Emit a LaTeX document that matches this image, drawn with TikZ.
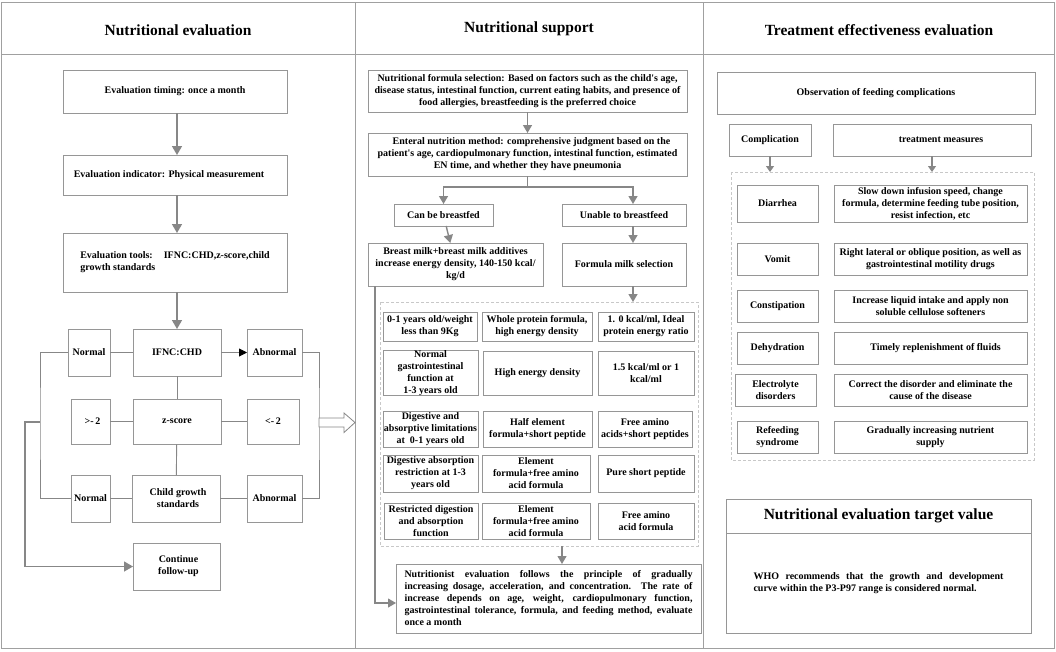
\documentclass[tikz,border=0pt]{standalone}
\usepackage{fontspec}
\setmainfont{Liberation Serif}
\usetikzlibrary{arrows.meta}
\definecolor{boxc}{RGB}{150,150,150}
\definecolor{arrc}{RGB}{135,135,135}
\definecolor{dashc}{RGB}{200,200,200}
\definecolor{framec}{RGB}{160,160,160}
\tikzset{
  bx/.style={draw=boxc, line width=0.9pt, inner sep=0pt, outer sep=0pt, align=center,
    font=\bfseries\fontsize{10}{12}\selectfont},
  ttl/.style={font=\bfseries\fontsize{15.5}{18}\selectfont, inner sep=0pt},
  arrL/.style={draw=arrc, line width=1.6pt, -{Triangle[length=9pt,width=10pt]}},
  arrM/.style={draw=arrc, line width=1.4pt, -{Triangle[length=8pt,width=9pt]}},
  arrR/.style={draw=arrc, line width=1.2pt, -{Triangle[length=6pt,width=8pt]}},
  ln/.style={draw=arrc, line width=0.9pt},
  dashbox/.style={draw=dashc, line width=0.9pt, dash pattern=on 3pt off 2pt},
  framel/.style={draw=framec, line width=0.9pt}
}
\newcommand\ap{\textquotesingle}
\newcommand\bx[7][]{\node[bx,minimum width={(#5-#3)*1pt},minimum height={(#6-#4)*1pt},#1] (#2) at ({(#3+#5)/2},{(#4+#6)/2}) {#7};}
\begin{document}
\begin{tikzpicture}[x=1pt,y=-1pt]
\useasboundingbox (0,0) rectangle (1056,651);
% frame
\draw[framel] (1,2) rectangle (1054,648);
\draw[framel] (355,2) -- (355,648);
\draw[framel] (703,2) -- (703,648);
\draw[framel] (1,54.5) -- (1054,54.5);
\node[ttl] (t1) at (178,30) {Nutritional evaluation};
\node[ttl] (t2) at (529,29) {Nutritional support};
\node[ttl] (t3) at (879,30) {Treatment effectiveness evaluation};

% ---------- left panel
\bx{b1}{63}{70}{287}{113}{Evaluation timing: once a month}
\bx{b2}{63}{155}{287}{195}{Evaluation indicator: Physical measurement\hspace*{12pt}}
\bx[align=left]{b3}{63}{233}{287}{292}{Evaluation tools:\hspace{1.1em}IFNC:CHD,z-score,child\\growth standards}
\bx{n1}{68}{329}{110}{376}{Normal}
\bx{ifnc}{133}{329}{221}{376}{IFNC:CHD}
\bx{ab1}{247}{329}{302}{376}{Abnormal}
\bx{gt}{71}{399}{110}{444}{\hspace*{4pt}>-\,2}
\bx{zs}{133}{399}{221}{444}{z-score}
\bx{lt}{247}{399}{299}{444}{<-\,2}
\bx{n2}{71}{475}{110}{522}{Normal}
\bx{cg}{132}{475}{220}{522}{\hspace*{4pt}Child growth\\\hspace*{4pt}standards}
\bx{ab2}{247}{475}{302}{522}{Abnormal}
\bx{cf}{133}{543}{220}{590}{\hspace*{4pt}Continue\\\hspace*{4pt}follow-up}

\draw[arrL] (b1.south -| ifnc.north) -- (b2.north -| ifnc.north);
\draw[arrL] (b2.south -| ifnc.north) -- (b3.north -| ifnc.north);
\draw[arrL] (b3.south -| ifnc.north) -- (ifnc.north);
\draw[ln] (n1) -- (ifnc);
\draw[ln,-{Triangle[length=8pt,width=8pt,color=black]}] (ifnc) -- (ab1);
\draw[ln] (ifnc) -- (zs);
\draw[ln] (gt) -- (zs);
\draw[ln] (zs) -- (lt);
\draw[ln] (zs) -- (cg);
\draw[ln] (n2) -- (cg);
\draw[ln] (cg) -- (ab2);
\coordinate (rb) at (319,422.5);
\coordinate (lb) at (40,422);
\coordinate (lb2) at (25,422);
\draw[ln] (ab1.east) -| (rb) |- (ab2.east);
\draw[ln] (n1.west) -| (lb) |- (n2.west);
\draw[arrL,line width=1.3pt] (lb) -- (lb2) |- (cf.west);
% hollow arrow to nutritional support
\coordinate (tip) at (355,422.5);
\draw[draw=arrc,line width=0.8pt,fill=white] (rb) -- ++(0,-4.5) -- ++(25,0) -- ++(0,-5) -- (tip) -- ++(-11,10) -- ++(0,-5.5) -- ++(-25,0) -- cycle;

% ---------- middle panel
\bx{nA}{368}{70}{687}{112}{Nutritional formula selection: Based on factors such as the child\ap s age,\\disease status, intestinal function, current eating habits, and presence of\\food allergies, breastfeeding is the preferred choice}
\bx{nB}{368}{133}{687}{176}{\hspace*{8pt}Enteral nutrition method: comprehensive judgment based on the\\patient\ap s age, cardiopulmonary function, intestinal function, estimated\\EN time, and whether they have pneumonia}
\bx{cb}{394}{204}{493}{226}{Can be breastfed}
\bx{ub}{562}{204}{686}{226}{Unable to breastfeed}
\bx{bm}{368}{243}{543}{286}{Breast milk+breast milk additives\\increase energy density, 140-150 kcal/\\kg/d}
\bx{fm}{562}{243}{686}{286}{Formula milk selection}
\bx[draw=none]{dash}{380}{302}{698}{546}{}
\draw[dashbox] (dash.north west) rectangle (dash.south east);
% grid
\bx{r1a}{383}{312}{477}{341}{0-1 years old/weight\\less than 9Kg}
\bx{r1b}{482}{312}{592}{341}{Whole protein formula,\\high energy density}
\bx{r1c}{598}{312}{694}{341}{1. 0 kcal/ml, Ideal\\protein energy ratio}
\bx{r2a}{383}{351}{478}{395}{Normal\\gastrointestinal\\function at\\1-3 years old}
\bx{r2b}{483}{351}{592}{395}{High energy density}
\bx{r2c}{598}{351}{694}{395}{1.5 kcal/ml or 1\\kcal/ml}
\bx{r3a}{383}{411}{478}{447}{Digestive and\\absorptive limitations\\at~ 0-1 years old}
\bx{r3b}{483}{411}{592}{447}{Half element\\formula+short peptide}
\bx{r3c}{598}{411}{692}{447}{Free amino\\acids+short peptides}
\bx{r4a}{383}{455}{478}{492}{Digestive absorption\\restriction at 1-3\\years old}
\bx{r4b}{482}{455}{590}{492}{Element\\formula+free amino\\acid formula}
\bx{r4c}{598}{455}{694}{492}{Pure short peptide}
\bx{r5a}{384}{503}{478}{539}{Restricted digestion\\and absorption\\function}
\bx{r5b}{482}{503}{590}{539}{Element\\formula+free amino\\acid formula}
\bx{r5c}{598}{503}{694}{539}{Free amino\\acid formula}
\bx[text width=288pt,align=justify,inner xsep=8.5pt]{ne}{396}{564}{701}{633}{Nutritionist evaluation follows the principle of gradually\linebreak increasing dosage, acceleration, and concentration. The rate of\linebreak increase depends on age, weight, cardiopulmonary function,\linebreak gastrointestinal tolerance, formula, and feeding method, evaluate\linebreak once a month}

\draw[arrM] (nA) -- (nB);
\coordinate (spl) at (527.5,187);
\draw[ln,line width=1.2pt] (nB.south) -- (spl);
\draw[arrM] (spl) -| (cb.north);
\draw[arrM] (spl) -| ([xshift=9pt]ub.north);
\draw[arrM] (cb) -- (bm);
\draw[arrM] ([xshift=9pt]ub.south) -- ([xshift=9pt]fm.north);
\draw[arrM] ([xshift=9pt]fm.south) -- ([xshift=9pt]fm.south |- dash.north);
\draw[arrM,line width=1.1pt] ([xshift=7pt]bm.south west) |- ([yshift=-4.5pt]ne.west);
\draw[arrM,line width=1.1pt] ([xshift=23pt]dash.south) -- ([xshift=23pt]dash.south |- ne.north);

% ---------- right panel
\bx{obs}{717}{72}{1035}{114}{Observation of feeding complications}
\bx{comp}{729}{124}{811}{156}{Complication}
\bx{tm}{833}{124}{1031}{156}{\hspace*{18pt}treatment measures}
\bx[draw=none]{dash2}{731}{172}{1034}{460}{}
\draw[dashbox] (dash2.north west) rectangle (dash2.south east);
\bx{c1}{737}{185}{818}{222}{Diarrhea}
\bx{m1}{834}{185}{1027}{222}{Slow down infusion speed, change\\formula, determine feeding tube position,\\resist infection, etc}
\bx{c2}{737}{243}{818}{275}{Vomit}
\bx{m2}{834}{243}{1027}{275}{Right lateral or oblique position, as well as\\gastrointestinal motility drugs}
\bx{c3}{737}{290}{818}{322}{Constipation}
\bx{m3}{834}{290}{1027}{322}{Increase liquid intake and apply non\\soluble cellulose softeners}
\bx{c4}{737}{332}{818}{364}{Dehydration}
\bx{m4}{834}{332}{1027}{364}{\hspace*{10pt}Timely replenishment of fluids}
\bx{c5}{735}{374}{816}{406}{Electrolyte\\disorders}
\bx{m5}{834}{374}{1027}{406}{Correct the disorder and eliminate the\\cause of the disease}
\bx{c6}{737}{421}{818}{453}{Refeeding\\syndrome}
\bx{m6}{834}{421}{1027}{453}{Gradually increasing nutrient\\supply}
\draw[arrR] (comp) -- (comp.south |- dash2.north);
\draw[arrR] (tm) -- (tm.south |- dash2.north);
\bx[font=\bfseries\fontsize{15.5}{18}\selectfont]{tgtT}{726}{499}{1031}{533}{Nutritional evaluation target value}
\bx[text width=250pt,align=justify,inner xsep=27.5pt]{tgtB}{726}{533}{1031}{633}{WHO recommends that the growth and development\linebreak curve within the P3-P97 range is considered normal.}
\end{tikzpicture}
\end{document}
